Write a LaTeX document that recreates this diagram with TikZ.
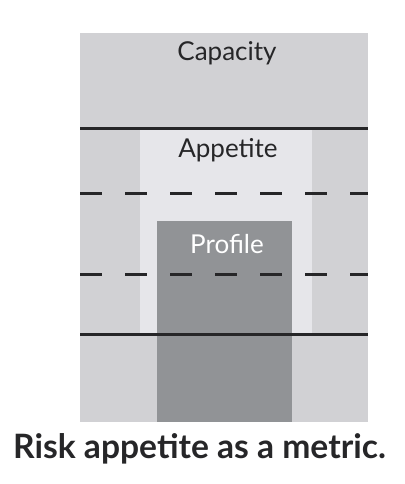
\documentclass[tikz,border=0pt]{standalone}
\usepackage{fontspec}
\setmainfont{Lato}
\usepackage{tikz}

\definecolor{capacitygray}{HTML}{D1D1D4}
\definecolor{appetitegray}{HTML}{E6E6EA}
\definecolor{profilegray}{HTML}{919396}
\definecolor{linegray}{HTML}{262628}

\tikzset{
	limit/.style={draw=linegray, line width=1.5pt},
	tolerance/.style={draw=linegray, line width=1.5pt, dash pattern=on 11pt off 11.5pt},
	zone/.style={anchor=base, font=\fontsize{13}{15}\selectfont, text=linegray},
}

\begin{document}
\begin{tikzpicture}[x=0.5pt,y=-0.5pt]
	\useasboundingbox (0,0) rectangle (405,484);

	\fill[capacitygray] (80.5,33) rectangle (368,422);
	\fill[appetitegray] (140,128) rectangle (312,334);
	\fill[profilegray]  (157,221) rectangle (292,422);

	\draw[limit]     (80.5,128) -- (368,128);
	\draw[tolerance] (80.5,193) -- (368,193);
	\draw[tolerance] (80.5,274) -- (368,274);
	\draw[limit]     (80.5,334) -- (368,334);

	\node[zone] (capacity) at (227,60)  {Capacity};
	\node[zone] (appetite) at (228,157) {Appetite};
	\node[zone, text=white] (profile) at (227,253) {Profile};

	\node[anchor=base, font=\fontsize{16.8}{20}\selectfont\bfseries, text=linegray] (caption) at (199.5,458) {Risk appetite as a metric.};
\end{tikzpicture}
\end{document}
